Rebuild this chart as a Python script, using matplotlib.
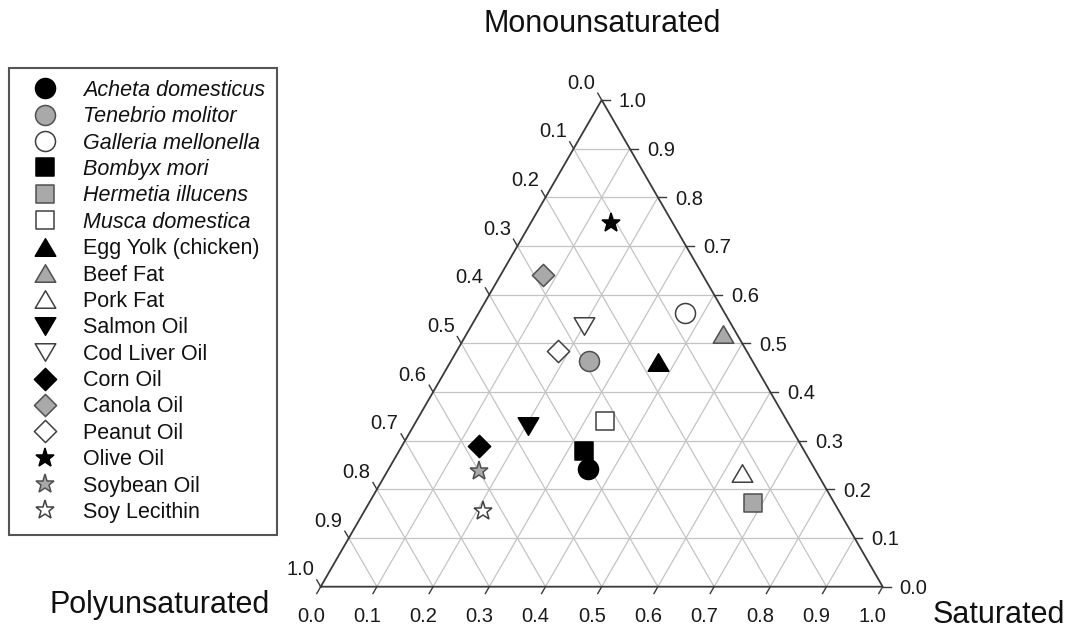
import numpy as np
import matplotlib
matplotlib.use('Agg')
import matplotlib.pyplot as plt
from matplotlib.path import Path
from matplotlib.lines import Line2D

plt.rcParams['font.family'] = ['Liberation Sans', 'DejaVu Sans']

# ---------------- data ----------------
names = ['Acheta domesticus', 'Tenebrio molitor', 'Galleria mellonella',
         'Bombyx mori', 'Hermetia illucens', 'Musca domestica',
         'Egg Yolk (chicken)', 'Beef Fat', 'Pork Fat', 'Salmon Oil',
         'Cod Liver Oil', 'Corn Oil', 'Canola Oil', 'Peanut Oil',
         'Olive Oil', 'Soybean Oil', 'Soy Lecithin']
italic_names = names[:6]
saturated = [0.355, 0.246, 0.367, 0.329, 0.684, 0.336, 0.370, 0.456, 0.633,
             0.203, 0.200, 0.137, 0.075, 0.179, 0.143, 0.163, 0.210]
monounsaturated = [0.241, 0.463, 0.562, 0.279, 0.171, 0.340, 0.462, 0.519, 0.234,
                   0.330, 0.536, 0.290, 0.640, 0.485, 0.748, 0.238, 0.156]
polyunsaturated = [0.404, 0.291, 0.071, 0.392, 0.145, 0.324, 0.168, 0.025, 0.133,
                   0.467, 0.264, 0.573, 0.285, 0.336, 0.109, 0.599, 0.634]
ticks = [0.0, 0.1, 0.2, 0.3, 0.4, 0.5, 0.6, 0.7, 0.8, 0.9, 1.0]
tick_labels = ['0.0', '0.1', '0.2', '0.3', '0.4', '0.5', '0.6', '0.7', '0.8', '0.9', '1.0']
title_sat = 'Saturated'
title_mono = 'Monounsaturated'
title_poly = 'Polyunsaturated'

# ---------------- styles ----------------
def closed(verts):
    return Path(list(verts) + [verts[0]], closed=True)

TRI_UP = closed([(0, 0.85), (-1, -0.85), (1, -0.85)])
TRI_DN = closed([(0, -0.85), (-1, 0.85), (1, 0.85)])
DIAM = closed([(0, 1), (1, 0), (0, -1), (-1, 0)])
SQR = closed([(-1, -1), (1, -1), (1, 1), (-1, 1)])

BLK = ('#000000', '#000000')
GRY = ('#a9a9a9', '#505050')
OPN = ('#ffffff', '#404040')

styles = [('o', 14.4, BLK), ('o', 14.4, GRY), ('o', 14.4, OPN),
          (SQR, 12.3, BLK), (SQR, 12.3, GRY), (SQR, 12.3, OPN),
          (TRI_UP, 14.8, BLK), (TRI_UP, 14.8, GRY), (TRI_UP, 14.8, OPN),
          (TRI_DN, 14.8, BLK), (TRI_DN, 14.8, OPN),
          (DIAM, 16.0, BLK), (DIAM, 16.0, GRY), (DIAM, 16.0, OPN),
          ('*', 14.0, BLK), ('*', 14.2, GRY), ('*', 14.2, OPN)]

W, H = 1068, 628
fig = plt.figure(figsize=(W / 100, H / 100), dpi=100)
h = np.sqrt(3) / 2
L = 562.0
x0_px, ybot_px = 320.7, 586.7
ax = fig.add_axes([x0_px / W, (H - ybot_px) / H, L / W, L * h / H])
ax.set_xlim(0, 1)
ax.set_ylim(0, h)
ax.axis('off')

def tern(s, m):
    return s + m / 2.0, m * h

grid_c = '#c4c4c4'
edge_c = '#3a3a3a'
# grid lines
for t in ticks[1:-1]:
    # constant mono (horizontal)
    ax.plot([t / 2, 1 - t / 2], [t * h, t * h], color=grid_c, lw=0.9, zorder=1)
    # constant saturated
    xa, ya = tern(t, 0)
    xb, yb = tern(t, 1 - t)
    ax.plot([xa, xb], [ya, yb], color=grid_c, lw=0.9, zorder=1)
    # constant poly
    xa, ya = tern(1 - t, 0)
    xb, yb = tern(0, 1 - t)
    ax.plot([xa, xb], [ya, yb], color=grid_c, lw=0.9, zorder=1)

# triangle border
ax.plot([0, 1, 0.5, 0], [0, 0, h, 0], color=edge_c, lw=1.3, zorder=3,
        clip_on=False, solid_joinstyle='miter')

tl = 0.014
fs_tick = 14.5
px = 0.72  # pixels -> points
for t, lab in zip(ticks, tick_labels):
    # bottom axis: saturated
    xa, ya = tern(t, 0)
    ax.plot([xa, xa - 0.5 * tl], [ya, ya - h * tl], color=edge_c, lw=1.0, clip_on=False)
    ax.annotate(lab, (xa, ya), xytext=(-10 * px, -35.5 * px), textcoords='offset points',
                ha='center', va='baseline', fontsize=fs_tick, color='#1a1a1a')
    # right axis: mono
    xa, ya = tern(1 - t, t)
    ax.plot([xa, xa + tl], [ya, ya], color=edge_c, lw=1.0, clip_on=False)
    ax.annotate(lab, (xa, ya), xytext=(17 * px, -7.2 * px), textcoords='offset points',
                ha='left', va='baseline', fontsize=fs_tick, color='#1a1a1a')
    # left axis: poly
    xa, ya = tern(0, 1 - t)
    ax.plot([xa, xa - 0.5 * tl], [ya, ya + h * tl], color=edge_c, lw=1.0, clip_on=False)
    ax.annotate(lab, (xa, ya), xytext=(-20.5 * px, 11.3 * px), textcoords='offset points',
                ha='center', va='baseline', fontsize=fs_tick, color='#1a1a1a')

# data points
handles = []
for i, name in enumerate(names):
    tot = saturated[i] + monounsaturated[i] + polyunsaturated[i]
    s = saturated[i] / tot
    m = monounsaturated[i] / tot
    x, y = tern(s, m)
    mk, ms, (fc, ec) = styles[i]
    ln, = ax.plot([x], [y], ls='none', marker=mk, ms=ms, mfc=fc, mec=ec,
                  mew=1.1, zorder=5, clip_on=False, label=name)
    handles.append(ln)

leg = fig.legend(handles, names, loc='upper left',
                 bbox_to_anchor=(9 / W, 1 - 68 / H), bbox_transform=fig.transFigure,
                 borderaxespad=0, frameon=True, fancybox=False, framealpha=1,
                 edgecolor='#555555', borderpad=0.55, handlelength=2.27,
                 handletextpad=0.64, labelspacing=0.25, numpoints=1,
                 prop=dict(family='Liberation Sans', size=15.5))
leg.get_frame().set_linewidth(1.5)
for txt in leg.get_texts():
    if txt.get_text() in italic_names:
        txt.set_fontstyle('italic')
    txt.set_color('#111111')

# axis titles
fig.text(602 / W, 1 - 32 / H, title_mono, ha='center', va='baseline', fontsize=22, color='#111111')
fig.text(50 / W, 1 - 613 / H, title_poly, ha='left', va='baseline', fontsize=22, color='#111111')
fig.text(933 / W, 1 - 623 / H, title_sat, ha='left', va='baseline', fontsize=22, color='#111111')

fig.savefig('out.png', dpi=100, facecolor='white')
